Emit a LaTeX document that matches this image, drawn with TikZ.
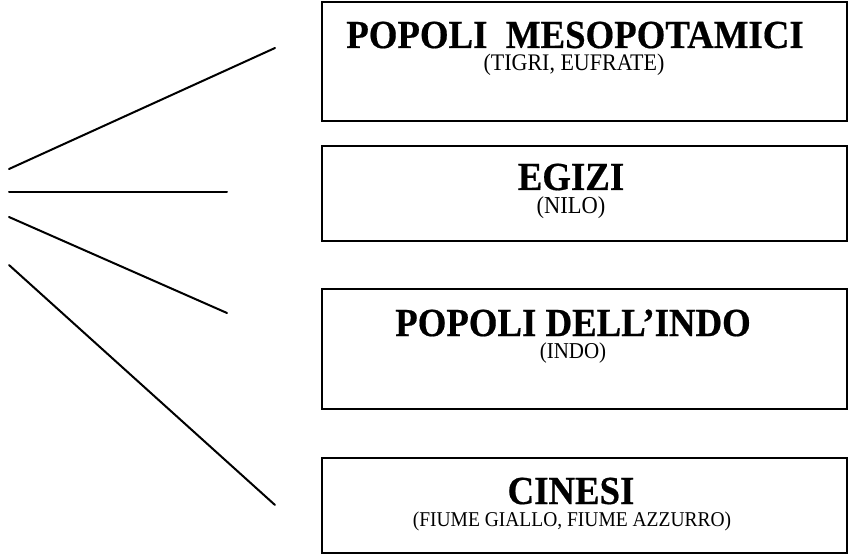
\documentclass[tikz,border=0pt]{standalone}
\usepackage{graphicx}
\usepackage{fontspec}
\setmainfont{Liberation Serif}
\newfontfamily\heavyfont[FakeBold=0.5]{Liberation Serif Bold}
\newcommand{\tallt}[1]{\scalebox{1}[1.08]{#1}}
\begin{document}
\begin{tikzpicture}[x=1pt,y=-1pt,
  box/.style={draw=black,line width=2.6pt,rectangle,inner sep=0pt},
  ttl/.style={anchor=base,inner sep=0pt,text depth=0pt,font=\fontsize{36.8}{36.8}\heavyfont},
  sub/.style={anchor=base,inner sep=0pt,text height=14pt,text depth=3pt},
  ray/.style={line width=2pt,line cap=round}]
\useasboundingbox (0,0) rectangle (851,556);
% boxes
\draw[box] (322,2) rectangle (847,121);
\draw[box] (322,146) rectangle (847,241);
\draw[box] (322,289) rectangle (847,409);
\draw[box] (322,458) rectangle (847,553);
% texts
\node[ttl] (t1) at (575,48) {\tallt{POPOLI\ \ MESOPOTAMICI}};
\node[sub,font=\fontsize{22}{22}\selectfont] (s1) at (574,71) {\tallt{(TIGRI, EUFRATE)}};
\node[ttl] (t2) at (571,190) {\tallt{EGIZI}};
\node[sub,font=\fontsize{22.5}{22.5}\selectfont] (s2) at (571,214) {\tallt{(NILO)}};
\node[ttl] (t3) at (573,336) {\tallt{POPOLI DELL’INDO}};
\node[sub,font=\fontsize{21}{21}\selectfont] (s3) at (573,358) {\tallt{(INDO)}};
\node[ttl] (t4) at (571,504) {\tallt{CINESI}};
\node[sub,font=\fontsize{19.5}{19.5}\selectfont] (s4) at (572,526) {\tallt{(FIUME GIALLO, FIUME AZZURRO)}};
% rays
\coordinate (a1) at (9,169);  \coordinate (b1) at (275,48);
\coordinate (a2) at (9,192);  \coordinate (b2) at (227,192);
\coordinate (a3) at (9,217);  \coordinate (b3) at (227,313);
\coordinate (a4) at (9,265);  \coordinate (b4) at (275,505);
\draw[ray] (a1) -- (b1);
\draw[ray] (a2) -- (b2);
\draw[ray] (a3) -- (b3);
\draw[ray] (a4) -- (b4);
\end{tikzpicture}
\end{document}
